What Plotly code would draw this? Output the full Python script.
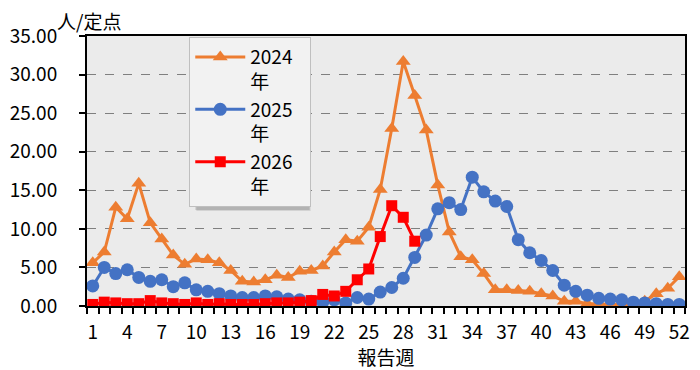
import plotly.graph_objects as go

weeks = list(range(1, 53))
x_tick_vals = [1, 4, 7, 10, 13, 16, 19, 22, 25, 28, 31, 34, 37, 40, 43, 46, 49, 52]
x_tick_labels = [str(v) for v in x_tick_vals]
y_tick_vals = [0, 5, 10, 15, 20, 25, 30, 35]
y_tick_labels = ["%.2f" % v for v in y_tick_vals]

NB = "\u00a0"
series_names = ["2024" + NB * 3 + "<br>年", "2025" + NB * 3 + "<br>年", "2026" + NB * 3 + "<br>年"]

values_2024 = [5.6, 7.0, 12.8, 11.3, 15.9, 10.8, 8.7, 6.6, 5.4, 6.1,
               6.0, 5.6, 4.6, 3.2, 3.1, 3.4, 4.0, 3.7, 4.5, 4.6,
               5.2, 7.0, 8.6, 8.4, 10.2, 15.1, 23.0, 31.7, 27.3, 22.8,
               15.7, 9.6, 6.4, 6.0, 4.2, 2.1, 2.1, 2.0, 1.9, 1.6,
               1.3, 0.6, 0.6, 0.3, 0.3, 0.2, 0.2, 0.3, 0.6, 1.6,
               2.3, 3.8]
values_2025 = [2.6, 5.0, 4.2, 4.7, 3.7, 3.2, 3.4, 2.5, 3.0, 2.1,
               1.9, 1.6, 1.3, 1.1, 1.1, 1.3, 1.2, 0.9, 0.8, 0.6,
               0.5, 0.8, 0.4, 1.1, 0.9, 1.8, 2.4, 3.6, 6.3, 9.2,
               12.6, 13.4, 12.5, 16.7, 14.8, 13.6, 12.9, 8.6, 6.9, 5.9,
               4.6, 2.7, 1.9, 1.4, 1.0, 0.9, 0.8, 0.5, 0.4, 0.3,
               0.2, 0.2]
values_2026 = [0.2, 0.5, 0.4, 0.3, 0.3, 0.7, 0.4, 0.3, 0.2, 0.4,
               0.2, 0.3, 0.2, 0.2, 0.2, 0.3, 0.4, 0.4, 0.5, 0.7,
               1.5, 1.3, 1.9, 3.4, 4.8, 9.0, 13.0, 11.5, 8.4]

FONT = "Noto Sans CJK JP"

fig = go.Figure()
styles = [
    ("#ED7D31", "triangle-up", 13),
    ("#4472C4", "circle", 13),
    ("#FF0000", "square", 11),
]
for name, vals, (col, sym, size) in zip(series_names, [values_2024, values_2025, values_2026], styles):
    fig.add_trace(go.Scatter(
        x=weeks[:len(vals)], y=vals, name=name, mode="lines+markers",
        line=dict(color=col, width=3),
        marker=dict(color=col, symbol=sym, size=size, line=dict(width=0)),
    ))

# plot area in pixels: x 83..690, y 36..306
PL, PW, PT, PH = 83, 607, 36, 270
def px_x(p):
    return (p - PL) / PW
def px_y(p):
    return (PT + PH - p) / PH

fig.update_layout(
    width=700, height=370,
    margin=dict(l=83, r=10, t=36, b=64),
    paper_bgcolor="white",
    plot_bgcolor="#EBEBEB",
    font=dict(family=FONT, size=19, color="black"),
    showlegend=True,
    legend=dict(
        x=0.171, y=0.996, xanchor="left", yanchor="top",
        bgcolor="#F2F2F2", bordercolor="#BFBFBF", borderwidth=1,
        font=dict(family=FONT, size=19, color="black"),
        valign="top", tracegroupgap=0, itemwidth=50,
    ),
    xaxis=dict(
        range=[0.5, 52.5], tickmode="array", tickvals=x_tick_vals, ticktext=x_tick_labels,
        ticks="", showgrid=False, zeroline=False,
        showline=True, linecolor="black", linewidth=2, mirror=True,
        minor=dict(tickmode="linear", tick0=0.5, dtick=1, ticks="outside",
                   ticklen=6, tickwidth=2, tickcolor="black", showgrid=False),
        tickfont=dict(family=FONT, size=19),
        title=dict(text="報告週", font=dict(family=FONT, size=19), standoff=2),
        ticklabelstandoff=8,
    ),
    yaxis=dict(
        range=[0, 35], tickmode="array", tickvals=y_tick_vals, ticktext=y_tick_labels,
        ticks="outside", ticklen=6, tickwidth=2, tickcolor="black",
        showgrid=True, gridcolor="#7F7F7F", griddash="dash", gridwidth=1,
        zeroline=False, showline=True, linecolor="black", linewidth=2, mirror=True,
        tickfont=dict(family=FONT, size=19),
        ticklabelstandoff=18,
    ),
)
# soft drop shadow behind the legend box
for off, alpha in [(4, 0.10), (3, 0.15)]:
    fig.add_shape(type="rect", xref="paper", yref="paper",
                  x0=px_x(190 + off), x1=px_x(306 + off),
                  y0=px_y(207 + off), y1=px_y(38 + off),
                  fillcolor="rgba(0,0,0,%.2f)" % alpha, line=dict(width=0), layer="above")

fig.add_annotation(text="人/定点", xref="paper", yref="paper", x=-0.054, y=1.0,
                   xanchor="left", yanchor="bottom", showarrow=False,
                   font=dict(family=FONT, size=19, color="black"))

fig.write_html("out.html")
